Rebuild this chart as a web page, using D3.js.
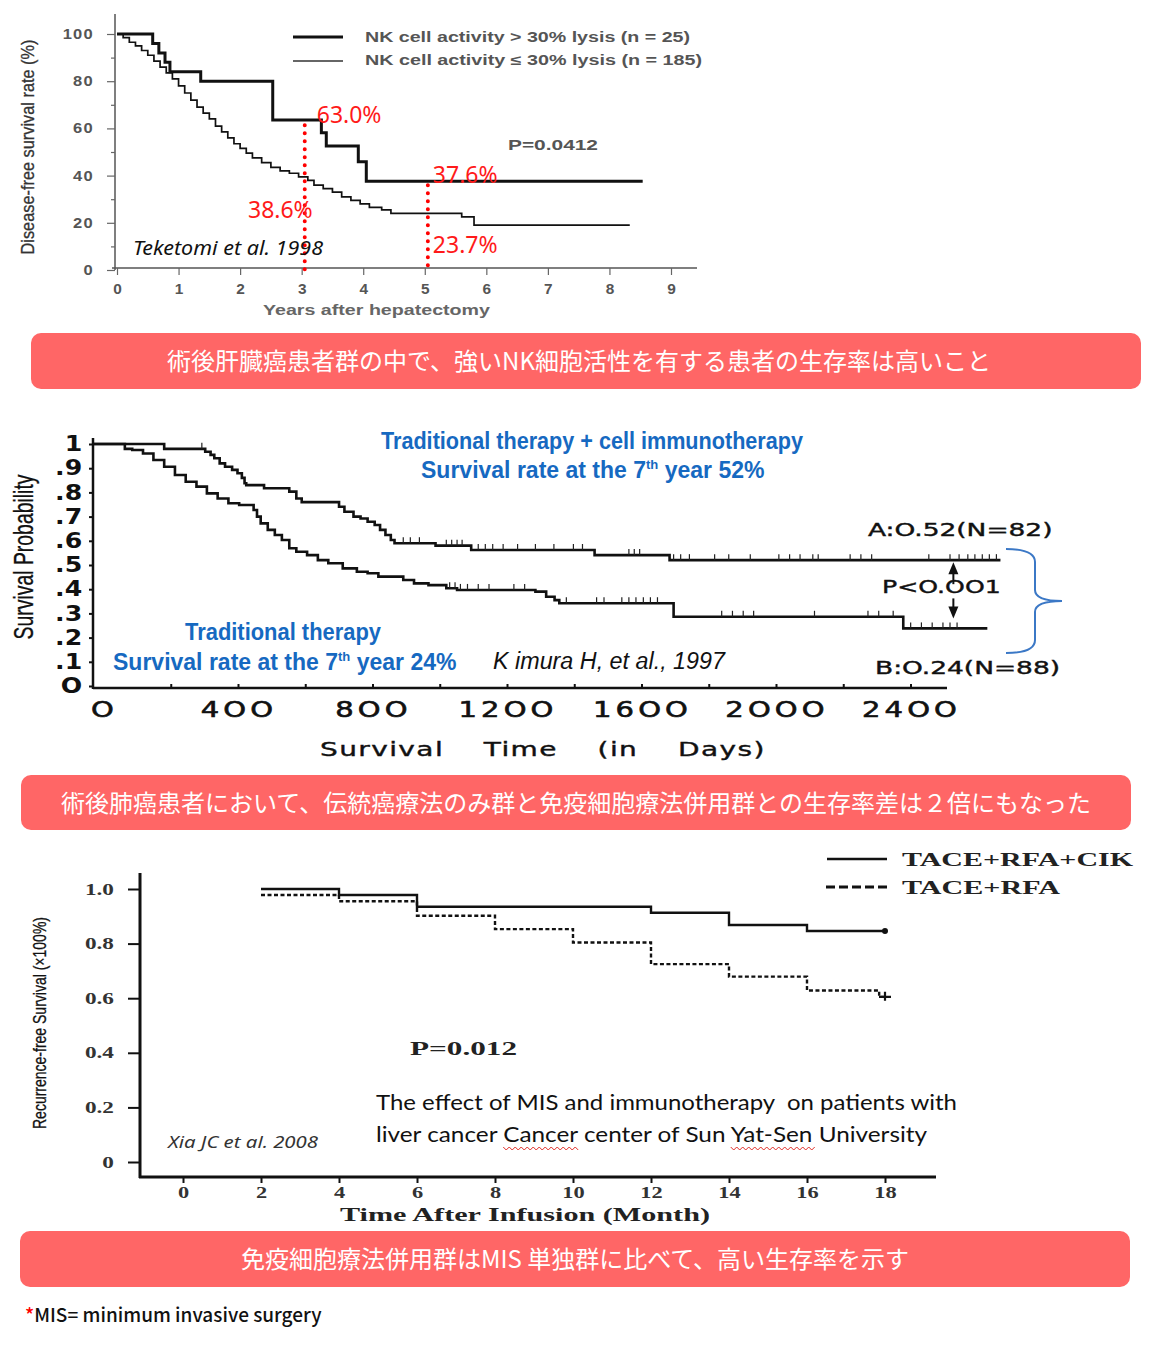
<!DOCTYPE html>
<html>
  <head>
    <meta charset="utf-8" />
    <title>NK / CIK survival curves</title>
    <style>
      body { margin: 0; background: #fff; }
      svg { display: block; }
      .curve { fill: none; stroke: #111; }
      .banner-text {
        font-family: 'Noto Sans CJK JP', sans-serif;
        font-size: 24px;
        fill: #fff;
        text-anchor: middle;
        dominant-baseline: central;
      }
    </style>
    <script src="https://d3js.org/d3.v7.min.js"></script>
  </head>
  <body>
    <svg width="1170" height="1365"></svg>
    <script>
      // ---------- panel 1: Teketomi 1998 (years, %) ----------
      var p1Years = [0, 1, 2, 3, 4, 5, 6, 7, 8, 9]
      var p1Ticks = [0, 10, 20, 30, 40, 50, 60, 70, 80, 90, 100]
      var nkHighTime = [0, 0.58, 0.68, 0.78, 0.86, 1.36, 2.53, 3.32, 3.4, 3.92, 4.05, 8.54]
      var nkHighRate = [100, 96, 92, 88, 84, 80, 63.6, 58.2, 52.5, 45.9, 37.6, 37.6]
      var nkLowTime = [0, 0.1, 0.2, 0.3, 0.4, 0.5, 0.6, 0.7, 0.8, 0.9, 1.0, 1.1, 1.2, 1.3, 1.4, 1.5, 1.6, 1.7, 1.8, 1.9, 2.0, 2.1, 2.2, 2.35, 2.5, 2.65, 2.8, 2.95, 3.1, 3.2, 3.35, 3.5, 3.65, 3.8, 3.95, 4.1, 4.3, 4.45, 5.6, 5.8, 8.33]
      var nkLowRate = [100, 98.5, 96.5, 95, 93, 91, 88.5, 86, 83.5, 81, 78, 75, 72, 69, 66.5, 64, 61, 58.5, 56, 53.5, 51.5, 49.5, 47.5, 45.5, 43.5, 42, 41, 39.5, 38, 36, 34.5, 33, 31, 29.5, 28, 26.5, 25.5, 24, 22.5, 19, 19]
      var noteYears = [3.05, 5.05]
      var noteHigh = [63.0, 37.6]
      var noteLow = [38.6, 23.7]

      // ---------- panel 2: Kimura 1997 (days, probability) ----------
      var p2Days = [0, 400, 800, 1200, 1600, 2000, 2400]
      var p2Probs = [0, 0.1, 0.2, 0.3, 0.4, 0.5, 0.6, 0.7, 0.8, 0.9, 1]
      var armATime = [0, 179, 301, 317, 328, 344, 360, 381, 397, 410, 418, 423, 476, 551, 572, 588, 699, 715, 742, 763, 784, 805, 821, 837, 853, 864, 986, 1092, 1459, 1682, 2666]
      var armARate = [1, 0.98, 0.968, 0.955, 0.941, 0.92, 0.906, 0.893, 0.879, 0.86, 0.838, 0.83, 0.817, 0.803, 0.775, 0.76, 0.741, 0.72, 0.7, 0.692, 0.679, 0.665, 0.645, 0.624, 0.603, 0.59, 0.58, 0.562, 0.541, 0.52, 0.52]
      var armBTime = [0, 62, 84, 116, 147, 179, 211, 243, 275, 306, 338, 370, 402, 445, 455, 466, 487, 508, 529, 551, 572, 604, 636, 667, 710, 752, 784, 816, 890, 922, 965, 1018, 1050, 1283, 1315, 1340, 1354, 1694, 2377, 2627]
      var armBRate = [1, 0.98, 0.975, 0.961, 0.934, 0.906, 0.872, 0.844, 0.824, 0.796, 0.775, 0.755, 0.748, 0.727, 0.7, 0.672, 0.645, 0.624, 0.603, 0.569, 0.555, 0.541, 0.52, 0.507, 0.486, 0.472, 0.466, 0.452, 0.438, 0.424, 0.417, 0.404, 0.397, 0.39, 0.369, 0.355, 0.342, 0.286, 0.238, 0.238]
      var censorA = [291, 890, 911, 938, 1018, 1034, 1050, 1065, 1113, 1134, 1156, 1187, 1230, 1283, 1338, 1396, 1423, 1561, 1577, 1593, 1694, 1715, 1741, 1816, 1858, 1922, 2007, 2039, 2070, 2108, 2124, 2219, 2251, 2283, 2453, 2516, 2543, 2569, 2590, 2612, 2633, 2654]
      var censorB = [1028, 1044, 1060, 1081, 1113, 1145, 1219, 1251, 1375, 1465, 1487, 1540, 1561, 1582, 1604, 1625, 1646, 1837, 1869, 1901, 1932, 2113, 2272, 2304, 2347, 2399, 2431, 2463, 2495, 2516, 2537]
      var pArrowDay = 2526

      // ---------- panel 3: Xia 2008 (months, probability) ----------
      var p3Months = [0, 2, 4, 6, 8, 10, 12, 14, 16, 18]
      var p3Probs = [0, 0.2, 0.4, 0.6, 0.8, 1.0]
      var cikTime = [2, 4, 6, 12, 14, 16, 18]
      var cikRate = [1.0, 0.978, 0.935, 0.913, 0.868, 0.846, 0.846]
      var rfaTime = [2, 4, 6, 8, 10, 12, 14, 16, 17.85, 18]
      var rfaRate = [0.978, 0.955, 0.902, 0.853, 0.804, 0.725, 0.679, 0.628, 0.605, 0.605]

      var banners = [
        '術後肝臓癌患者群の中で、強いNK細胞活性を有する患者の生存率は高いこと',
        '術後肺癌患者において、伝統癌療法のみ群と免疫細胞療法併用群との生存率差は２倍にもなった',
        '免疫細胞療法併用群はMIS 単独群に比べて、高い生存率を示す'
      ]

      function zip(t, s) {
        return t.map(function (d, i) { return { t: d, s: s[i] } })
      }
      function survAt(times, rates, t) {
        var i = d3.bisectRight(times, t) - 1
        return rates[Math.max(i, 0)]
      }

      var svg = d3.select('svg')
      svg.append('rect').attr('width', 1170).attr('height', 1365).attr('fill', '#fff')

      // ======================= panel 1 =======================
      var g1 = svg.append('g')
      var x1 = d3.scaleLinear().domain([0, 9]).range([117, 671])
      var y1 = d3.scaleLinear().domain([0, 100]).range([270, 34])

      g1.append('line').attr('x1', 115).attr('x2', 115).attr('y1', 14).attr('y2', 270)
        .attr('stroke', '#555').attr('stroke-width', 1.5)
      g1.append('line').attr('x1', 112).attr('x2', 697).attr('y1', 268).attr('y2', 268)
        .attr('stroke', '#555').attr('stroke-width', 1.5)

      var ay1 = g1.append('g').attr('transform', 'translate(115,0)')
        .call(d3.axisLeft(y1).tickValues(p1Ticks).tickSize(8).tickPadding(10)
          .tickFormat(function (d) { return d % 20 === 0 ? d : '' }))
      ay1.select('.domain').remove()
      ay1.selectAll('.tick line').attr('stroke', '#666').attr('stroke-width', 1.2)
        .attr('x2', function (d) { return d % 20 === 0 ? -8 : -4 })
      ay1.selectAll('.tick text').attr('font-family', 'Liberation Sans, Arial, sans-serif')
        .attr('font-size', 14).attr('font-weight', 'bold').attr('fill', '#555')
        .attr('letter-spacing', 1).attr('transform', 'scale(1.18,1)')

      var ax1 = g1.append('g').attr('transform', 'translate(0,268)')
        .call(d3.axisBottom(x1).tickValues(p1Years).tickSize(7).tickPadding(9))
      ax1.select('.domain').remove()
      ax1.selectAll('.tick line').attr('stroke', '#666').attr('stroke-width', 1.2)
      ax1.selectAll('.tick text').attr('font-family', 'Liberation Sans, Arial, sans-serif')
        .attr('font-size', 14).attr('font-weight', 'bold').attr('fill', '#555').attr('transform', 'scale(1.1,1)')

      var line1 = d3.line()
        .x(function (d) { return x1(d.t) })
        .y(function (d) { return y1(d.s) })
        .curve(d3.curveStepAfter)
      g1.append('path').attr('class', 'curve').attr('d', line1(zip(nkLowTime, nkLowRate)))
        .attr('stroke-width', 1.7).attr('stroke', '#222')
      g1.append('path').attr('class', 'curve').attr('d', line1(zip(nkHighTime, nkHighRate)))
        .attr('stroke-width', 3).attr('stroke', '#111')

      // red dotted guides
      noteYears.forEach(function (yr, i) {
        g1.append('line')
          .attr('x1', x1(yr)).attr('x2', x1(yr))
          .attr('y1', y1(noteHigh[i]) + 4).attr('y2', y1(0))
          .attr('stroke', '#ff0000').attr('stroke-width', 4)
          .attr('stroke-dasharray', '0,8').attr('stroke-linecap', 'round')
        g1.append('text').attr('x', x1(yr) + (i === 0 ? 12 : 5)).attr('y', y1(noteHigh[i]) + 2)
          .attr('font-family', 'Noto Sans, sans-serif').attr('font-size', 23).attr('fill', '#ff1a1a')
          .text(noteHigh[i].toFixed(1) + '%')
        g1.append('text')
          .attr('x', i === 0 ? x1(yr) + 8 : x1(yr) + 5)
          .attr('y', y1(noteLow[i]) + 39)
          .attr('text-anchor', i === 0 ? 'end' : 'start')
          .attr('font-family', 'Noto Sans, sans-serif').attr('font-size', 23).attr('fill', '#ff1a1a')
          .text(noteLow[i].toFixed(1) + '%')
      })

      // legend
      g1.append('line').attr('x1', 293).attr('x2', 343).attr('y1', 37).attr('y2', 37)
        .attr('stroke', '#111').attr('stroke-width', 3)
      g1.append('line').attr('x1', 293).attr('x2', 343).attr('y1', 61).attr('y2', 61)
        .attr('stroke', '#333').attr('stroke-width', 1.6)
      g1.append('text').attr('x', 365).attr('y', 42).text('NK cell activity > 30% lysis (n = 25)')
        .attr('textLength', 325).attr('lengthAdjust', 'spacingAndGlyphs')
      g1.append('text').attr('x', 365).attr('y', 65).text('NK cell activity ≤ 30% lysis (n = 185)')
        .attr('textLength', 337).attr('lengthAdjust', 'spacingAndGlyphs')
      g1.append('text').attr('x', 508).attr('y', 150).text('P=0.0412')
        .attr('textLength', 90).attr('lengthAdjust', 'spacingAndGlyphs')
      g1.selectAll('text:not([fill])').attr('font-family', 'Liberation Sans, Arial, sans-serif')
        .attr('font-size', 14).attr('font-weight', 'bold').attr('fill', '#555')

      g1.append('text').attr('x', 133).attr('y', 255).text('Teketomi et al. 1998')
        .attr('font-family', 'Noto Sans, sans-serif').attr('font-style', 'italic').attr('font-size', 20)
        .attr('fill', '#111').attr('textLength', 190).attr('lengthAdjust', 'spacingAndGlyphs')
      g1.append('text').attr('x', 263).attr('y', 315).text('Years after hepatectomy')
        .attr('font-family', 'Liberation Sans, Arial, sans-serif').attr('font-size', 15).attr('font-weight', 'bold')
        .attr('fill', '#666').attr('textLength', 227).attr('lengthAdjust', 'spacingAndGlyphs')
      g1.append('text').attr('transform', 'translate(34,147) rotate(-90)').attr('text-anchor', 'middle')
        .text('Disease-free survival rate (%)')
        .attr('font-family', 'Liberation Sans, Arial, sans-serif').attr('font-size', 19)
        .attr('fill', '#333').attr('stroke', '#333').attr('stroke-width', 0.3)
        .attr('textLength', 215).attr('lengthAdjust', 'spacingAndGlyphs')

      // ======================= panel 2 =======================
      var g2 = svg.append('g')
      var x2 = d3.scaleLinear().domain([0, 2400]).range([104, 911])
      var y2 = d3.scaleLinear().domain([0, 1]).range([686, 444])
      var axisX2 = 93

      g2.append('line').attr('x1', axisX2).attr('x2', axisX2).attr('y1', 438).attr('y2', 689)
        .attr('stroke', '#111').attr('stroke-width', 2.5)
      g2.append('line').attr('x1', axisX2).attr('x2', 947).attr('y1', 688).attr('y2', 688)
        .attr('stroke', '#111').attr('stroke-width', 2.5)

      var ay2 = g2.append('g').attr('transform', 'translate(' + axisX2 + ',0)')
        .call(d3.axisLeft(y2).tickValues(p2Probs).tickSize(4).tickPadding(5)
          .tickFormat(function (d) { return d === 1 ? '1' : d === 0 ? 'O' : '.' + Math.round(d * 10) }))
      ay2.select('.domain').remove()
      ay2.selectAll('.tick line').attr('stroke', '#111').attr('stroke-width', 2)
      ay2.selectAll('.tick text').attr('font-family', 'DejaVu Sans, sans-serif').attr('font-size', 21)
        .attr('font-weight', 'bold').attr('fill', '#111').attr('transform', 'scale(1.2,1)')

      var ax2 = g2.append('g').attr('transform', 'translate(0,688)')
        .call(d3.axisBottom(x2).tickValues(p2Days).tickSize(0).tickPadding(14)
          .tickFormat(function (d) { return String(d).replace(/0/g, 'O') }))
      ax2.select('.domain').remove()
      ax2.selectAll('.tick text').attr('font-family', 'DejaVu Sans, sans-serif').attr('font-size', 21)
        .attr('fill', '#111').attr('stroke', '#111').attr('stroke-width', 0.6)
        .attr('letter-spacing', 3).attr('transform', 'scale(1.38,1)')
      // small minor ticks on the x axis
      g2.selectAll('.xminor').data(d3.range(200, 2600, 200)).enter().append('line')
        .attr('x1', function (d) { return x2(d) }).attr('x2', function (d) { return x2(d) })
        .attr('y1', 684).attr('y2', 688).attr('stroke', '#111').attr('stroke-width', 2)

      var line2 = d3.line()
        .x(function (d) { return d.t === 0 ? axisX2 : x2(d.t) })
        .y(function (d) { return y2(d.s) })
        .curve(d3.curveStepAfter)
      g2.append('path').attr('class', 'curve').attr('d', line2(zip(armATime, armARate))).attr('stroke-width', 2.6)
      g2.append('path').attr('class', 'curve').attr('d', line2(zip(armBTime, armBRate))).attr('stroke-width', 2.6)

      g2.selectAll('.censorA').data(censorA).enter().append('line')
        .attr('x1', function (d) { return x2(d) }).attr('x2', function (d) { return x2(d) })
        .attr('y1', function (d) { return y2(survAt(armATime, armARate, d)) })
        .attr('y2', function (d) { return y2(survAt(armATime, armARate, d)) - 6 })
        .attr('stroke', '#222').attr('stroke-width', 1.2)
      g2.selectAll('.censorB').data(censorB).enter().append('line')
        .attr('x1', function (d) { return x2(d) }).attr('x2', function (d) { return x2(d) })
        .attr('y1', function (d) { return y2(survAt(armBTime, armBRate, d)) })
        .attr('y2', function (d) { return y2(survAt(armBTime, armBRate, d)) - 6 })
        .attr('stroke', '#222').attr('stroke-width', 1.2)

      // arrows & p value
      var axp = x2(pArrowDay)
      var yA = y2(survAt(armATime, armARate, pArrowDay))
      var yB = y2(survAt(armBTime, armBRate, pArrowDay))
      g2.append('line').attr('x1', axp).attr('x2', axp).attr('y1', yA + 10).attr('y2', yA + 24)
        .attr('stroke', '#111').attr('stroke-width', 2)
      g2.append('path').attr('d', 'M' + axp + ',' + (yA + 2) + 'l-5,12l10,0z').attr('fill', '#111')
      g2.append('line').attr('x1', axp).attr('x2', axp).attr('y1', yB - 30).attr('y2', yB - 20)
        .attr('stroke', '#111').attr('stroke-width', 2)
      g2.append('path').attr('d', 'M' + axp + ',' + (yB - 10) + 'l-5,-12l10,0z').attr('fill', '#111')

      var wide = function (sel, size) {
        sel.attr('font-family', 'DejaVu Sans, sans-serif').attr('font-size', size).attr('fill', '#111')
          .attr('stroke', '#111').attr('stroke-width', 0.4)
      }
      g2.append('text').attr('transform', 'translate(882,593) scale(1.4,1)').text('P<O.OO1').call(wide, 18)
      g2.append('text').attr('transform', 'translate(868,536) scale(1.47,1)').text('A:O.52(N=82)').call(wide, 18)
      g2.append('text').attr('transform', 'translate(875,674) scale(1.47,1)').text('B:O.24(N=88)').call(wide, 18)
      g2.append('text').attr('transform', 'translate(320,756) scale(1.4,1)')
        .text('Survival Time (in Days)')
        .call(wide, 20).attr('letter-spacing', 1).attr('word-spacing', 21)

      // blue brace
      g2.append('path')
        .attr('d', 'M1006,549 Q1035,549 1035,562 L1035,590 Q1035,601 1062,601 Q1035,601 1035,612 L1035,640 Q1035,653 1006,653')
        .attr('fill', 'none').attr('stroke', '#3b78c6').attr('stroke-width', 2)

      var blue = function (sel) {
        sel.attr('font-family', "'Liberation Sans Narrow', 'Liberation Sans', Arial, sans-serif")
          .attr('font-weight', 'bold').attr('font-size', 23).attr('fill', '#1669c1')
          .attr('lengthAdjust', 'spacingAndGlyphs')
      }
      g2.append('text').attr('x', 381).attr('y', 449).attr('textLength', 422)
        .text('Traditional therapy + cell immunotherapy').call(blue)
      var s52 = g2.append('text').attr('x', 421).attr('y', 478).call(blue)
      s52.append('tspan').text('Survival rate at the 7')
      s52.append('tspan').attr('font-size', 13).attr('dy', -9).text('th')
      s52.append('tspan').attr('dy', 9).text(' year 52%')
      g2.append('text').attr('x', 185).attr('y', 640).attr('textLength', 196)
        .text('Traditional therapy').call(blue)
      var s24 = g2.append('text').attr('x', 113).attr('y', 670).call(blue)
      s24.append('tspan').text('Survival rate at the 7')
      s24.append('tspan').attr('font-size', 13).attr('dy', -9).text('th')
      s24.append('tspan').attr('dy', 9).text(' year 24%')

      g2.append('text').attr('x', 493).attr('y', 669).text('K imura H, et al., 1997')
        .attr('font-family', "'Liberation Sans Narrow', 'Liberation Sans', Arial, sans-serif")
        .attr('font-style', 'italic').attr('font-size', 23).attr('fill', '#111')
        .attr('textLength', 232).attr('lengthAdjust', 'spacingAndGlyphs')
      g2.append('text').attr('transform', 'translate(33,557) rotate(-90)').attr('text-anchor', 'middle')
        .text('Survival Probability')
        .attr('font-family', "'Liberation Sans Narrow', 'Liberation Sans', Arial, sans-serif")
        .attr('font-size', 28).attr('fill', '#111').attr('stroke', '#111').attr('stroke-width', 0.3)
        .attr('textLength', 165).attr('lengthAdjust', 'spacingAndGlyphs')

      // ======================= panel 3 =======================
      var g3 = svg.append('g')
      var x3 = d3.scaleLinear().domain([0, 18]).range([183, 885])
      var y3 = d3.scaleLinear().domain([0, 1]).range([1162, 889])

      g3.append('line').attr('x1', 140).attr('x2', 140).attr('y1', 873).attr('y2', 1178)
        .attr('stroke', '#111').attr('stroke-width', 3)
      g3.append('line').attr('x1', 139).attr('x2', 936).attr('y1', 1177).attr('y2', 1177)
        .attr('stroke', '#111').attr('stroke-width', 3)

      var ay3 = g3.append('g').attr('transform', 'translate(140,0)')
        .call(d3.axisLeft(y3).tickValues(p3Probs).tickSize(12).tickPadding(6)
          .tickFormat(function (d) { return d === 0 ? '0' : d.toFixed(1) }))
      ay3.select('.domain').remove()
      ay3.selectAll('.tick line').attr('stroke', '#111').attr('stroke-width', 2)
      ay3.selectAll('.tick text').attr('font-family', 'Liberation Serif, Times New Roman, serif')
        .attr('font-size', 16).attr('font-weight', 'bold').attr('fill', '#333').attr('transform', 'scale(1.45,1)')

      var ax3 = g3.append('g').attr('transform', 'translate(0,1177)')
        .call(d3.axisBottom(x3).tickValues(p3Months).tickSize(6).tickPadding(4))
      ax3.select('.domain').remove()
      ax3.selectAll('.tick line').attr('stroke', '#111').attr('stroke-width', 2)
      ax3.selectAll('.tick text').attr('font-family', 'Liberation Serif, Times New Roman, serif')
        .attr('font-size', 16).attr('font-weight', 'bold').attr('fill', '#333').attr('transform', 'scale(1.4,1)')

      var line3 = d3.line()
        .x(function (d) { return x3(d.t) })
        .y(function (d) { return y3(d.s) })
        .curve(d3.curveStepAfter)
      g3.append('path').attr('class', 'curve').attr('d', line3(zip(cikTime, cikRate))).attr('stroke-width', 2.4)
      g3.append('path').attr('class', 'curve').attr('d', line3(zip(rfaTime, rfaRate)))
        .attr('stroke-width', 2.4).attr('stroke-dasharray', '4,2.5')
      g3.append('circle').attr('cx', x3(18)).attr('cy', y3(cikRate[cikRate.length - 1])).attr('r', 3).attr('fill', '#111')
      g3.append('path')
        .attr('d', 'M' + (x3(18) - 6) + ',' + y3(rfaRate[rfaRate.length - 1]) + 'l12,0M' + x3(18) + ',' + (y3(rfaRate[rfaRate.length - 1]) - 5) + 'l0,9')
        .attr('stroke', '#111').attr('stroke-width', 2.2)

      // legend
      g3.append('line').attr('x1', 827).attr('x2', 887).attr('y1', 859).attr('y2', 859)
        .attr('stroke', '#111').attr('stroke-width', 2.5)
      g3.append('line').attr('x1', 826).attr('x2', 887).attr('y1', 887).attr('y2', 887)
        .attr('stroke', '#111').attr('stroke-width', 3).attr('stroke-dasharray', '9,4')
      var serif = function (sel, size) {
        sel.attr('font-family', 'Liberation Serif, Times New Roman, serif').attr('font-weight', 'bold')
          .attr('font-size', size).attr('fill', '#222').attr('lengthAdjust', 'spacingAndGlyphs')
      }
      g3.append('text').attr('x', 902).attr('y', 866).text('TACE+RFA+CIK').call(serif, 19).attr('textLength', 231)
      g3.append('text').attr('x', 902).attr('y', 894).text('TACE+RFA').call(serif, 19).attr('textLength', 158)
      g3.append('text').attr('x', 410).attr('y', 1055).text('P=0.012').call(serif, 18).attr('textLength', 107)
      g3.append('text').attr('x', 340).attr('y', 1221).text('Time After Infusion (Month)').call(serif, 19).attr('textLength', 370)

      g3.append('text').attr('transform', 'translate(46,1023) rotate(-90)').attr('text-anchor', 'middle')
        .text('Recurrence-free Survival (×100%)')
        .attr('font-family', "'Liberation Sans Narrow', 'Liberation Sans', Arial, sans-serif")
        .attr('font-size', 19).attr('fill', '#111').attr('stroke', '#111').attr('stroke-width', 0.3)
        .attr('textLength', 212).attr('lengthAdjust', 'spacingAndGlyphs')
      g3.append('text').attr('x', 168).attr('y', 1148).text('Xia JC et al. 2008')
        .attr('font-family', 'Noto Sans, sans-serif').attr('font-style', 'italic').attr('font-size', 17)
        .attr('fill', '#333').attr('textLength', 150).attr('lengthAdjust', 'spacingAndGlyphs')

      var note1 = g3.append('text').attr('x', 376).attr('y', 1110).attr('style', 'white-space: pre')
        .text('The effect of MIS and immunotherapy  on patients with')
      var note2 = g3.append('text').attr('x', 376).attr('y', 1142).attr('style', 'white-space: pre')
        .text('liver cancer Cancer center of Sun Yat-Sen University')
      g3.selectAll('text[style]').attr('font-family', 'Lato, sans-serif').attr('font-size', 22).attr('fill', '#111')
      note1.attr('textLength', 581).attr('lengthAdjust', 'spacingAndGlyphs')
      note2.attr('textLength', 551).attr('lengthAdjust', 'spacingAndGlyphs')

      // red spell-check squiggles under two words
      var node2 = note2.node()
      var str2 = note2.text()
      ;['Cancer', 'Yat-Sen'].forEach(function (w) {
        var i0 = str2.indexOf(w)
        var xa = node2.getStartPositionOfChar(i0).x
        var xb = node2.getEndPositionOfChar(i0 + w.length - 1).x
        var d = 'M' + xa + ',1147'
        for (var xx = xa, k = 0; xx < xb; xx += 3, k++) {
          d += 'L' + (xx + 3) + ',' + (k % 2 ? 1147 : 1150)
        }
        g3.append('path').attr('d', d).attr('fill', 'none').attr('stroke', '#e0302a').attr('stroke-width', 1)
      })

      // ======================= banners =======================
      var bannerBoxes = [[31, 333, 1110, 56, -7], [21, 775, 1110, 55, 0], [20, 1231, 1110, 56, 0]]
      banners.forEach(function (txt, i) {
        var b = bannerBoxes[i]
        svg.append('rect').attr('x', b[0]).attr('y', b[1]).attr('width', b[2]).attr('height', b[3])
          .attr('rx', 10).attr('fill', '#ff6666')
        svg.append('text').attr('class', 'banner-text').attr('x', b[0] + b[2] / 2 + b[4]).attr('y', b[1] + b[3] / 2 - 1.5)
          .text(txt)
      })

      // footnote
      var foot = svg.append('text').attr('x', 25).attr('y', 1322)
        .attr('font-family', "'Noto Sans CJK JP', 'Noto Sans', sans-serif").attr('font-size', 19).attr('font-weight', 500)
      foot.append('tspan').attr('fill', '#ff0000').text('*')
      foot.append('tspan').attr('fill', '#111').text('MIS= minimum invasive surgery')
    </script>
  </body>
</html>
